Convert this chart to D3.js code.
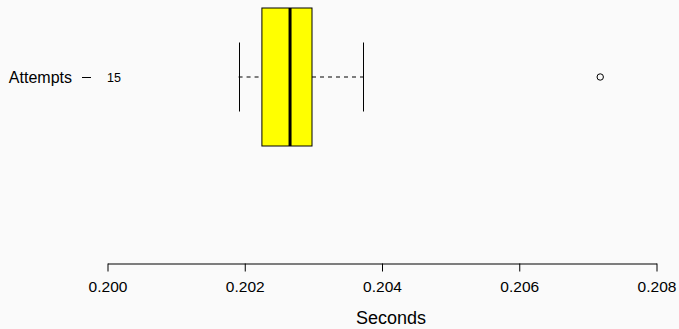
<!DOCTYPE html>
<html lang="en">
<head>
  <meta charset="utf-8">
  <title>Attempts boxplot</title>
  <script src="https://d3js.org/d3.v7.min.js"></script>
  <style>
  body {
      margin: 0;
      background: #fafafa;
  }
  svg text {
      font-family: "Liberation Sans", Arial, sans-serif;
      fill: #000;
  }
  </style>
</head>
<body>
<script>

// data
var categories = ["Attempts"];
var counts = ["15"];
var lowWhisker = [0.20191];
var q1 = [0.20225];
var median = [0.20266];
var q3 = [0.20298];
var highWhisker = [0.20373];
var outliers = [[0.20718]];
var xTicks = [0.200, 0.202, 0.204, 0.206, 0.208];

var width = 679,
    height = 329;

var svg = d3.select("body").append("svg")
    .attr("width", width)
    .attr("height", height);

var x = d3.scaleLinear()
    .domain([0.200, 0.208])
    .range([107.5, 656.5]);

// one group, R style: groups at 1, box width 0.8
var y = d3.scaleLinear()
    .domain([0.5, 1.5])
    .range([-9.25, 163.25]);

var boxHalf = 0.4,
    capHalf = 0.2;

var data = categories.map(function(c, i) {
  return {name: c, n: counts[i], lo: lowWhisker[i], q1: q1[i], med: median[i],
          q3: q3[i], hi: highWhisker[i], out: outliers[i], pos: i + 1};
});

var g = svg.selectAll(".box")
    .data(data)
  .enter().append("g")
    .attr("class", "box");

// dashed whiskers
g.append("line")
    .attr("x1", function(d) { return x(d.lo); })
    .attr("x2", function(d) { return x(d.q1); })
    .attr("y1", function(d) { return y(d.pos); })
    .attr("y2", function(d) { return y(d.pos); })
    .attr("stroke", "#000").attr("stroke-dasharray", "4,4");
g.append("line")
    .attr("x1", function(d) { return x(d.q3); })
    .attr("x2", function(d) { return x(d.hi); })
    .attr("y1", function(d) { return y(d.pos); })
    .attr("y2", function(d) { return y(d.pos); })
    .attr("stroke", "#000").attr("stroke-dasharray", "4,4");

// staples
g.selectAll(".cap")
    .data(function(d) { return [d.lo, d.hi].map(function(v) { return {v: v, pos: d.pos}; }); })
  .enter().append("line")
    .attr("class", "cap")
    .attr("x1", function(d) { return Math.round(x(d.v)) + 0.5; })
    .attr("x2", function(d) { return Math.round(x(d.v)) + 0.5; })
    .attr("y1", function(d) { return y(d.pos - capHalf); })
    .attr("y2", function(d) { return y(d.pos + capHalf); })
    .attr("stroke", "#000");

g.append("rect")
    .attr("x", function(d) { return x(d.q1); })
    .attr("width", function(d) { return x(d.q3) - x(d.q1); })
    .attr("y", function(d) { return y(d.pos - boxHalf); })
    .attr("height", function(d) { return y(d.pos + boxHalf) - y(d.pos - boxHalf); })
    .attr("fill", "#ffff00")
    .attr("stroke", "#000");

g.append("line")
    .attr("x1", function(d) { return x(d.med); })
    .attr("x2", function(d) { return x(d.med); })
    .attr("y1", function(d) { return y(d.pos - boxHalf); })
    .attr("y2", function(d) { return y(d.pos + boxHalf); })
    .attr("stroke", "#000")
    .attr("stroke-width", 3);

g.selectAll(".out")
    .data(function(d) { return d.out.map(function(v) { return {v: v, pos: d.pos}; }); })
  .enter().append("circle")
    .attr("class", "out")
    .attr("cx", function(d) { return x(d.v); })
    .attr("cy", function(d) { return y(d.pos); })
    .attr("r", 3.2)
    .attr("fill", "none")
    .attr("stroke", "#000");

// count label
g.append("text")
    .attr("x", 107)
    .attr("y", function(d) { return y(d.pos) + 4.5; })
    .style("font-size", "12.5px")
    .text(function(d) { return d.n; });

// y axis: tick mark and group name, no line
var yAxis = svg.append("g")
    .attr("transform", "translate(91,0)")
    .call(d3.axisLeft(y)
      .tickValues(data.map(function(d) { return d.pos; }))
      .tickFormat(function(d, i) { return categories[i]; })
      .tickSize(9)
      .tickPadding(10));
yAxis.select(".domain").remove();
yAxis.selectAll("text")
    .style("font-size", "16px")
    .attr("dy", "0.36em");

// x axis
var xAxis = svg.append("g")
    .attr("transform", "translate(0,263.5)")
    .call(d3.axisBottom(x)
      .tickValues(xTicks)
      .tickFormat(d3.format(".3f"))
      .tickSize(8)
      .tickSizeOuter(0)
      .tickPadding(9));
xAxis.selectAll("text")
    .style("font-size", "15.5px");
xAxis.selectAll("line, path")
    .attr("stroke", "#000");

svg.append("text")
    .attr("x", 391)
    .attr("y", 324)
    .attr("text-anchor", "middle")
    .style("font-size", "18px")
    .text("Seconds");

</script>
</body>
</html>
